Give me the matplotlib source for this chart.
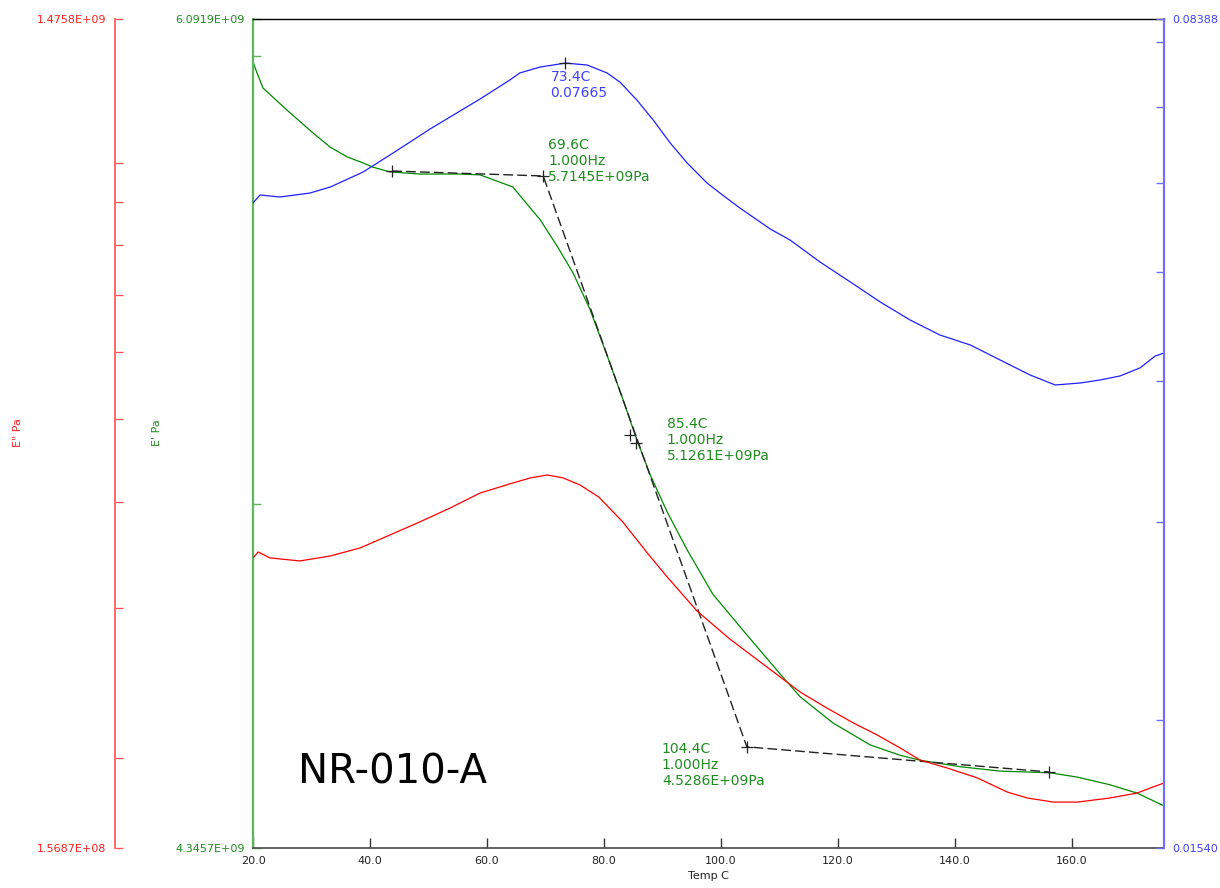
import numpy as np
import matplotlib.pyplot as plt

# storage modulus E' (Pa) vs temperature (C)
temp_g = [20.0, 20.7, 21.7, 23.4, 25.8, 30.3, 33.2, 36.1, 38.8, 40.5, 43.4, 48.5, 55.4, 58.8,
          64.4, 69.1, 72.0, 74.7, 77.6, 80.5, 83.2, 85.6, 87.9, 90.8, 94.2, 98.6, 104.4, 110.1,
          113.5, 119.1, 125.5, 130.6, 134.0, 140.9, 147.7, 156.2, 160.9, 166.5, 171.1, 175.7]
e_store = [5.986e9, 5.959e9, 5.923e9, 5.901e9, 5.870e9, 5.815e9, 5.782e9, 5.759e9, 5.745e9,
           5.735e9, 5.724e9, 5.719e9, 5.719e9, 5.717e9, 5.689e9, 5.613e9, 5.553e9, 5.493e9,
           5.412e9, 5.312e9, 5.218e9, 5.132e9, 5.059e9, 4.983e9, 4.907e9, 4.819e9, 4.740e9,
           4.665e9, 4.622e9, 4.573e9, 4.532e9, 4.513e9, 4.504e9, 4.492e9, 4.484e9, 4.481e9,
           4.473e9, 4.459e9, 4.444e9, 4.421e9]

# loss modulus E'' (Pa)
temp_r = [20.0, 20.9, 22.9, 28.0, 33.2, 38.3, 43.4, 48.5, 53.7, 58.8, 64.4, 67.4, 70.3, 73.0,
          75.9, 79.1, 83.2, 87.4, 90.8, 95.9, 101.5, 106.7, 110.1, 113.5, 118.1, 122.6, 126.7,
          130.6, 134.0, 138.6, 143.8, 148.9, 152.3, 156.8, 160.9, 166.5, 171.1, 173.8, 175.7]
e_loss = [3.437e8, 3.493e8, 3.437e8, 3.409e8, 3.455e8, 3.531e8, 3.657e8, 3.788e8, 3.934e8,
          4.096e8, 4.209e8, 4.267e8, 4.301e8, 4.267e8, 4.186e8, 4.052e8, 3.788e8, 3.483e8,
          3.264e8, 2.977e8, 2.760e8, 2.594e8, 2.491e8, 2.392e8, 2.290e8, 2.200e8, 2.129e8,
          2.056e8, 1.990e8, 1.948e8, 1.896e8, 1.825e8, 1.796e8, 1.776e8, 1.776e8, 1.796e8,
          1.820e8, 1.850e8, 1.870e8]

# tan delta
temp_b = [20.0, 21.2, 24.6, 29.7, 33.2, 38.8, 43.4, 50.3, 53.7, 58.8, 63.9, 65.6, 69.1, 73.4,
          77.1, 80.5, 82.7, 85.6, 88.4, 91.3, 94.2, 97.6, 99.8, 103.2, 108.4, 111.8, 116.9,
          122.1, 127.2, 132.3, 137.4, 142.6, 147.7, 152.8, 157.1, 161.4, 164.8, 168.2, 171.6,
          174.2, 175.7]
tan_d = [0.05759, 0.05853, 0.05829, 0.05876, 0.05949, 0.06134, 0.06351, 0.06700, 0.06866,
         0.07122, 0.07404, 0.07512, 0.07604, 0.07665, 0.07635, 0.07512, 0.07374, 0.07108,
         0.06823, 0.06510, 0.06249, 0.05998, 0.05877, 0.05700, 0.05460, 0.05338, 0.05104,
         0.04899, 0.04703, 0.04533, 0.04396, 0.04307, 0.04177, 0.04051, 0.03969, 0.03985,
         0.04010, 0.04043, 0.04110, 0.04211, 0.04237]

# onset construction (tangent lines) and marked points
tan_t = [43.8, 69.6, 104.4, 156.1]
tan_e = [5.726e9, 5.7145e9, 4.5286e9, 4.4824e9]
mid_t = [84.4, 85.4]
mid_e = [5.142e9, 5.1261e9]

xlim = (20.0, 175.7)
g_lim = (4.3457e9, 6.0919e9)
r_lim = (1.5687e8, 1.4758e9)
b_lim = (0.01540, 0.08388)
x_ticks = [20, 40, 60, 80, 100, 120, 140, 160]
g_ticks = [g_lim[0], 5e9, 6e9, g_lim[1]]
r_ticks = [r_lim[0], 2e8, 3e8, 4e8, 5e8, 6e8, 7e8, 8e8, 9e8, 1e9, r_lim[1]]
b_ticks = [b_lim[0], 0.02, 0.03, 0.04, 0.05, 0.06, 0.07, 0.08, b_lim[1]]

RED = '#ff2020'
GREEN = '#1e8c1e'
BLUE = '#4040ff'

fig = plt.figure(figsize=(12.2, 8.88), dpi=100)
L, R, T, B = 253, 1164, 19, 848
ax = fig.add_axes([L / 1220, 1 - B / 888, (R - L) / 1220, (B - T) / 888])
ax_r = ax.twinx()
ax_b = ax.twinx()

ax.set_xlim(*xlim)
for a, lim, ticks in [(ax, g_lim, g_ticks), (ax_r, r_lim, r_ticks), (ax_b, b_lim, b_ticks)]:
    a.set_yscale('log')
    a.set_ylim(*lim)
    a.set_yticks(ticks)
    a.yaxis.set_minor_locator(plt.NullLocator())
    a.set_yticklabels(['%.4E' % ticks[0]] + [''] * (len(ticks) - 2) + ['%.4E' % ticks[-1]])

ax_b.set_yticklabels(['%.5f' % b_ticks[0]] + [''] * (len(b_ticks) - 2) + ['%.5f' % b_ticks[-1]])

# data
ax.plot(temp_g, e_store, color='#008a00', lw=0.9)
ax_r.plot(temp_r, e_loss, color='#ff0000', lw=0.9)
ax_b.plot(temp_b, tan_d, color='#2020ff', lw=0.9)

ax.plot(tan_t, tan_e, color='#222222', lw=1.0, dashes=(7, 3))
ax.plot(tan_t + mid_t, tan_e + mid_e, '+', color='#222222', ms=8, mew=0.9)
ax_b.plot([73.4], [0.07665], '+', color='#222222', ms=8, mew=0.9)

# annotations
ax_b.annotate('73.4C\n0.07665', xy=(73.4, 0.07665), xytext=(-15, -7), textcoords='offset pixels',
              ha='left', va='top', fontsize=10, color=BLUE, linespacing=1.2)
ax.annotate('69.6C\n1.000Hz\n5.7145E+09Pa', xy=(69.6, 5.7145e9), xytext=(5, 38),
            textcoords='offset pixels', ha='left', va='top', fontsize=10, color=GREEN, linespacing=1.2)
ax.annotate('85.4C\n1.000Hz\n5.1261E+09Pa', xy=(85.4, 5.1261e9), xytext=(31, 26),
            textcoords='offset pixels', ha='left', va='top', fontsize=10, color=GREEN, linespacing=1.2)
ax.annotate('104.4C\n1.000Hz\n4.5286E+09Pa', xy=(104.4, 4.5286e9), xytext=(-85, 5),
            textcoords='offset pixels', ha='left', va='top', fontsize=10, color=GREEN, linespacing=1.2)

ax.text(0.049, 0.078, 'NR-010-A', transform=ax.transAxes, fontsize=29, va='baseline',
        color='black')

# spines
for a in (ax_r, ax_b):
    for s in ('top', 'bottom', 'left', 'right'):
        a.spines[s].set_visible(False)
ax.spines['right'].set_visible(False)
ax.spines['top'].set_color('black')
ax.spines['top'].set_linewidth(1.0)
ax.spines['bottom'].set_color('#555555')
ax.spines['bottom'].set_linewidth(1.3)
ax.spines['left'].set_color('#5cb85c')
ax.spines['left'].set_linewidth(1.6)

ax_r.spines['left'].set_visible(True)
ax_r.spines['left'].set_position(('axes', (115 - L) / (R - L)))
ax_r.spines['left'].set_color('#ff5a5a')
ax_r.spines['left'].set_linewidth(1.3)
ax_r.yaxis.set_ticks_position('left')
ax_b.spines['right'].set_visible(True)
ax_b.spines['right'].set_color('#7070ff')
ax_b.spines['right'].set_linewidth(1.6)

ax.tick_params(axis='y', direction='in', length=6, width=1, color='#5cb85c', labelcolor=GREEN,
               labelsize=8, pad=6)
ax_r.tick_params(axis='y', direction='in', length=6, width=1, color='#ff5a5a', labelcolor=RED,
                 labelsize=8, pad=6)
ax_b.tick_params(axis='y', direction='in', length=6, width=1, color='#7070ff', labelcolor=BLUE,
                 labelsize=8, pad=6)
ax.set_xticks(x_ticks)
ax.set_xticklabels(['%.1f' % t for t in x_ticks])
ax.tick_params(axis='x', direction='in', length=7, width=1, color='#333333', labelcolor='#222222',
               labelsize=8, pad=6)
ax.set_xlabel('Temp C', fontsize=8, color='#222222', labelpad=3)

fig.text(18 / 1220, 1 - 433 / 888, 'E" Pa', rotation=90, color=RED, fontsize=8,
         ha='center', va='center')
fig.text(157 / 1220, 1 - 433 / 888, "E' Pa", rotation=90, color=GREEN, fontsize=8,
         ha='center', va='center')

fig.savefig('out.png', dpi=100)
